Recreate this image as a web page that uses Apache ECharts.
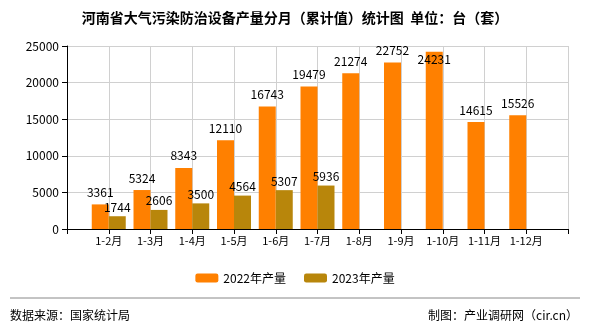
<!DOCTYPE html>
<html><head><meta charset="utf-8">
<script src="https://cdn.jsdelivr.net/npm/echarts@6/dist/echarts.min.js"></script>
<style>html,body{margin:0;padding:0;background:#fff}#c{width:590px;height:330px}</style>
</head><body><div id="c"></div>
<script>
const categories = ['1-2月','1-3月','1-4月','1-5月','1-6月','1-7月','1-8月','1-9月','1-10月','1-11月','1-12月'];
const values2022 = [3361,5324,8343,12110,16743,19479,21274,22752,24231,14615,15526];
const values2023 = [1744,2606,3500,4564,5307,5936];
const yTicks = [0,5000,10000,15000,20000,25000];

const FONT = '"Noto Sans CJK SC", "DejaVu Sans", sans-serif';
const cats = [''].concat(categories).concat(['']);
function pad(arr){ const out=[null]; for(let i=0;i<categories.length;i++){ out.push(i<arr.length?arr[i]:null);} out.push(null); return out; }
const yMax = yTicks[yTicks.length-1];
function mk(arr){ return pad(arr).map(v => v==null ? null : (v > yMax*0.95 ? {value:v,label:{position:'insideTop',distance:2}} : v)); }

const chart = echarts.init(document.getElementById('c'), null, {renderer:'canvas'});
chart.setOption({
  animation:false,
  title:{text:'河南省大气污染防治设备产量分月（累计值）统计图  单位：台（套）',left:'center',top:6,
    textStyle:{fontFamily:FONT,fontSize:14,fontWeight:'bold',color:'#000'}},
  grid:{left:67,right:22,top:46,bottom:101},
  legend:{bottom:41,left:'center',itemWidth:23,itemHeight:9,itemGap:18,
    textStyle:{fontFamily:FONT,fontSize:12,color:'#000'},
    data:['2022年产量','2023年产量']},
  xAxis:{type:'category',data:cats,boundaryGap:false,
    axisLine:{lineStyle:{color:'#000'}},axisTick:{show:true,length:5,lineStyle:{color:'#000'}},
    axisLabel:{interval:0,fontFamily:FONT,fontSize:11,color:'#000',margin:6},
    splitLine:{show:true,lineStyle:{color:'#d0d0d0'}}},
  yAxis:{type:'value',min:0,max:yMax,interval:5000,
    axisLine:{show:true,lineStyle:{color:'#000'}},axisTick:{show:true,length:5,lineStyle:{color:'#000'}},
    axisLabel:{fontFamily:FONT,fontSize:12,color:'#000',margin:8,formatter:v=>String(v)},
    splitLine:{lineStyle:{color:'#d0d0d0'}}},
  series:[
    {name:'2022年产量',type:'bar',data:mk(values2022),barWidth:17,barGap:'0%',
      itemStyle:{color:'#FF8000'},
      label:{show:true,position:'top',distance:6,fontFamily:FONT,fontSize:12,color:'#000'}},
    {name:'2023年产量',type:'bar',data:mk(values2023),barWidth:17,barGap:'0%',
      itemStyle:{color:'#B8860B'},
      label:{show:true,position:'top',distance:3,fontFamily:FONT,fontSize:12,color:'#000'}}
  ],
  graphic:[
    {type:'line',shape:{x1:10,y1:298,x2:580,y2:298},style:{stroke:'#888',lineWidth:1}},
    {type:'text',left:10,top:309,style:{text:'数据来源：国家统计局',font:'12px '+FONT,fill:'#000'}},
    {type:'text',right:12,top:309,style:{text:'制图：产业调研网（cir.cn）',font:'12px '+FONT,fill:'#000'}}
  ]
});
</script></body></html>
